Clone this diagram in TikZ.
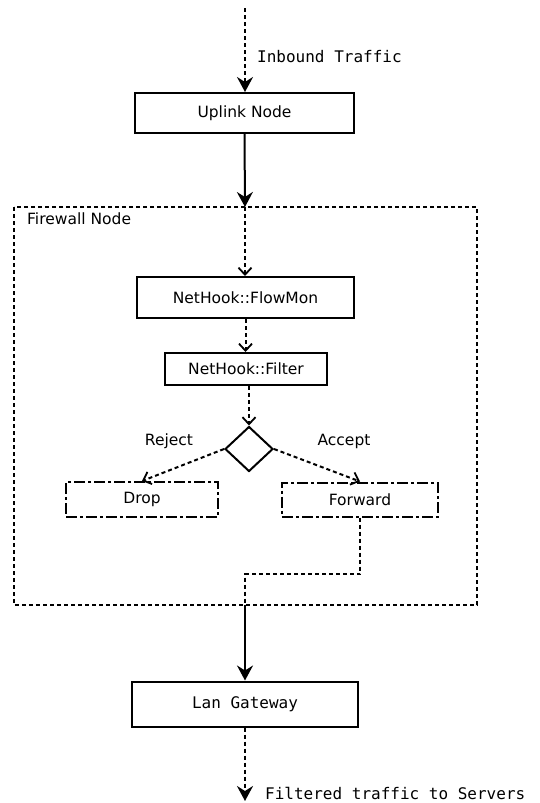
\documentclass[tikz,border=0pt]{standalone}
\usepackage{fontspec}
\setmainfont{DejaVu Sans}
\setmonofont{DejaVu Sans Mono}
\usetikzlibrary{arrows.meta,shapes.geometric}
\begin{document}
\begin{tikzpicture}[x=1pt,y=-1pt,
  box/.style={draw,line width=2pt,minimum height=40pt,inner sep=0pt,font=\fontsize{15.5}{18}\selectfont},
  dbox/.style={draw,line width=2pt,inner sep=0pt,font=\fontsize{15.5}{18}\selectfont,dash pattern=on 11pt off 3pt on 3pt off 3pt},
  lbl/.style={font=\fontsize{15.5}{18}\selectfont,inner sep=0pt},
  mlbl/.style={font=\ttfamily\fontsize{16}{18}\selectfont,inner sep=0pt,anchor=west},
  dotl/.style={line width=2pt,dash pattern=on 4pt off 3pt},
  fill tip/.style={-{Stealth[length=15pt,width=16pt,inset=5pt]}},
  open tip/.style={-{Straight Barb[length=7pt,width=13pt,line width=1.8pt]}},
]
\useasboundingbox (0,0) rectangle (539,803);
\fill[white] (0,0) rectangle (539,803);

% nodes
\node[box,minimum width=219pt,minimum height=40pt] (up) at (244.5,113) {Uplink Node};
\node[box,minimum width=217pt,minimum height=41pt] (fm) at (245.5,297.5) {NetHook::FlowMon};
\node[box,minimum width=162pt,minimum height=32pt] (fi) at (246,369) {NetHook::Filter};
\node[draw,diamond,line width=2pt,minimum width=48pt,minimum height=45pt,inner sep=0pt,aspect=1] (dm) at (249,449) {};
\node[dbox,minimum width=152pt,minimum height=35pt] (dr) at (142,499.5) {Drop};
\node[dbox,minimum width=156pt,minimum height=34pt] (fw) at (360,499.5) {Forward};
\node[box,minimum width=226pt,minimum height=45pt,font=\ttfamily\fontsize{16}{18}\selectfont] (lg) at (245,704) {Lan Gateway};

% firewall container
\draw[dotl] (14,207) rectangle (477,605);
\node[lbl,anchor=north west] (fwl) at (27,213) {Firewall Node};

\coordinate (in) at (245,8);
\coordinate (ftop) at (245,207);
\coordinate (fbot) at (245,605);
\coordinate (bend1) at (360,574);
\coordinate (bend2) at (245,574);
\coordinate (out) at (245,801);

% labels
\node[mlbl] (inl) at (257,57) {Inbound Traffic};
\node[mlbl] (outl) at (265,793) {Filtered traffic to Servers};
\node[lbl] (rej) at (169,441) {Reject};
\node[lbl] (acc) at (344,441) {Accept};

% connectors
\draw[dotl,fill tip] (in) -- (in |- up.north);
\draw[line width=2pt,fill tip] (up.south) -- (ftop);
\draw[dotl,open tip] (ftop) -- (ftop |- fm.north);
\draw[dotl,open tip] (fm.south) -- (fm.south |- fi.north);
\draw[dotl,open tip] (fi.south -| dm.north) -- (dm.north);
\draw[dotl,open tip] (dm.west) -- (dr.north);
\draw[dotl,open tip] (dm.east) -- (fw.north);
\draw[dotl] (fw.south) -- (bend1) -- (bend2) -- (fbot);
\draw[line width=2pt,fill tip] (fbot) -- (lg.north);
\draw[dotl,fill tip] (lg.south) -- (out);
\end{tikzpicture}
\end{document}
